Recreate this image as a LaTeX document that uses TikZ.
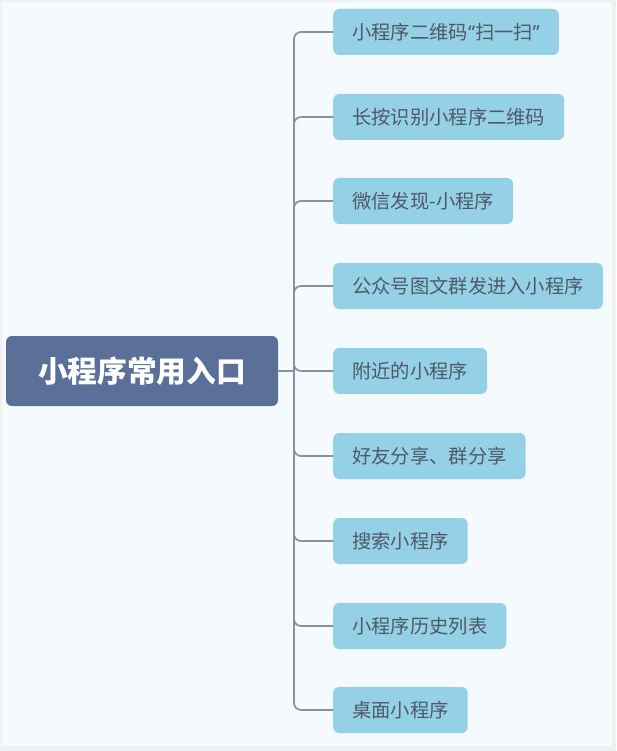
\documentclass[tikz,border=0pt]{standalone}
\usepackage{fontspec}
\newfontfamily\cjk{Noto Sans CJK SC}
\newfontfamily\latinq{Noto Sans}
\definecolor{outerbg}{HTML}{EEF0F3}
\definecolor{innerbg}{HTML}{F5FAFF}
\definecolor{rootfill}{HTML}{5A7099}
\definecolor{leaffill}{HTML}{94D0E6}
\definecolor{leaftext}{HTML}{4F5968}
\definecolor{conncol}{HTML}{8A91A5}
\newcommand{\myquote}[1]{\makebox[7pt][c]{\latinq #1}}
\tikzset{
  root/.style={fill=rootfill, rounded corners=6pt, minimum width=272pt, minimum height=70pt,
    text=white, font=\cjk\bfseries\fontsize{29.7}{33}\selectfont, inner sep=0pt},
  leaf/.style={fill=leaffill, rounded corners=6pt, minimum height=46pt, anchor=west,
    inner xsep=19pt, inner ysep=0pt, text=leaftext, font=\cjk\fontsize{19.3}{23}\selectfont},
  conn/.style={draw=conncol, line width=1.7pt, rounded corners=7pt}
}
\begin{document}
\begin{tikzpicture}[x=1pt,y=-1pt]
\useasboundingbox (0,0) rectangle (616,751);
\fill[outerbg] (0,0) rectangle (616,751);
\fill[innerbg] (2,2) rectangle (612,746);
\node[root] (root) at (142,371) {小程序常用入口};
\coordinate (j) at (294,371);
\node[leaf] (c1) at (333,32) {小程序二维码\myquote{“}扫一扫\myquote{”}};
\node[leaf] (c2) at (333,117) {长按识别小程序二维码};
\node[leaf] (c3) at (333,201) {微信发现-小程序};
\node[leaf] (c4) at (333,286) {公众号图文群发进入小程序};
\node[leaf] (c5) at (333,371) {附近的小程序};
\node[leaf] (c6) at (333,456) {好友分享、群分享};
\node[leaf] (c7) at (333,541) {搜索小程序};
\node[leaf] (c8) at (333,626) {小程序历史列表};
\node[leaf] (c9) at (333,710) {桌面小程序};
\draw[conn] (root.east) -- (j);
\foreach \c in {c1,c2,c3,c4,c5,c6,c7,c8,c9}{
  \draw[conn] (j) |- (\c.west);
}
\end{tikzpicture}
\end{document}
